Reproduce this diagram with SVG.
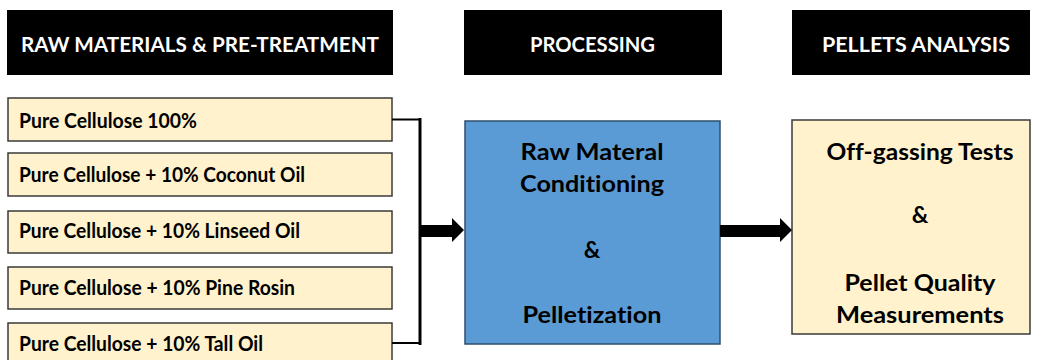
<svg xmlns="http://www.w3.org/2000/svg" width="1041" height="360" viewBox="0 0 1041 360">
<style>
.hdr{fill:#000}
.ht{fill:#fff;font-family:Lato,"Open Sans",sans-serif;font-weight:700;font-size:20.5px;font-variant-ligatures:none}
.raw{fill:#FFF2CC;stroke:#3a3a3a;stroke-width:1.5}
.rt{fill:#000;font-family:Lato,"Open Sans",sans-serif;font-weight:700;font-size:20.5px;font-variant-ligatures:none}
.bt{fill:#000;font-family:Lato,"Open Sans",sans-serif;font-weight:700;font-size:23px;text-anchor:middle;font-variant-ligatures:none}
.ln{stroke:#000;fill:none}
</style>
<g id="header-raw"><rect class="hdr" x="7" y="10" width="386" height="65"/><text class="ht" x="21" y="52" textLength="358" lengthAdjust="spacingAndGlyphs">RAW MATERIALS &amp; PRE-TREATMENT</text></g>
<g id="header-processing"><rect class="hdr" x="464" y="10" width="258" height="65"/><text class="ht" x="530" y="52" textLength="125" lengthAdjust="spacingAndGlyphs">PROCESSING</text></g>
<g id="header-analysis"><rect class="hdr" x="792" y="10" width="238" height="65"/><text class="ht" x="822" y="52" textLength="188" lengthAdjust="spacingAndGlyphs">PELLETS ANALYSIS</text></g>
<g id="raw-1"><rect class="raw" x="8" y="98" width="384" height="43"/><text class="rt" x="19" y="128" textLength="178" lengthAdjust="spacingAndGlyphs">Pure Cellulose 100%</text></g>
<g id="raw-2"><rect class="raw" x="8" y="153" width="384" height="43"/><text class="rt" x="19" y="182" textLength="286" lengthAdjust="spacingAndGlyphs">Pure Cellulose + 10% Coconut Oil</text></g>
<g id="raw-3"><rect class="raw" x="8" y="211" width="384" height="42"/><text class="rt" x="19" y="238" textLength="281" lengthAdjust="spacingAndGlyphs">Pure Cellulose + 10% Linseed Oil</text></g>
<g id="raw-4"><rect class="raw" x="8" y="267" width="384" height="42"/><text class="rt" x="19" y="295" textLength="276" lengthAdjust="spacingAndGlyphs">Pure Cellulose + 10% Pine Rosin</text></g>
<g id="raw-5"><rect class="raw" x="8" y="323" width="384" height="43"/><text class="rt" x="19" y="351" textLength="244" lengthAdjust="spacingAndGlyphs">Pure Cellulose + 10% Tall Oil</text></g>
<g id="processing"><rect x="465" y="121" width="255" height="223" fill="#5B9BD5" stroke="#2E4F6E" stroke-width="1.5"/>
<text class="bt" x="592" y="160" textLength="143" lengthAdjust="spacingAndGlyphs">Raw Materal</text>
<text class="bt" x="592" y="192" textLength="144" lengthAdjust="spacingAndGlyphs">Conditioning</text>
<text class="bt" x="592" y="258">&amp;</text>
<text class="bt" x="592" y="323" textLength="139" lengthAdjust="spacingAndGlyphs">Pelletization</text></g>
<g id="analysis"><rect x="792" y="120" width="238" height="214" fill="#FFF2CC" stroke="#3a3a3a" stroke-width="1.5"/>
<text class="bt" x="920" y="160" textLength="187" lengthAdjust="spacingAndGlyphs">Off-gassing Tests</text>
<text class="bt" x="920" y="223">&amp;</text>
<text class="bt" x="920" y="291" textLength="151" lengthAdjust="spacingAndGlyphs">Pellet Quality</text>
<text class="bt" x="920" y="323" textLength="168" lengthAdjust="spacingAndGlyphs">Measurements</text></g>
<g id="connectors">
<path class="ln" stroke-width="1.8" d="M392 119.5H420M392 343H420"/>
<path class="ln" stroke-width="3" d="M420 118V345"/>
<polygon fill="#000" points="421,225 452,225 452,218 464,230 452,242 452,237 421,237"/>
<polygon fill="#000" points="720,225 780,225 780,218 792,230 780,242 780,237 720,237"/>
</g>
</svg>
